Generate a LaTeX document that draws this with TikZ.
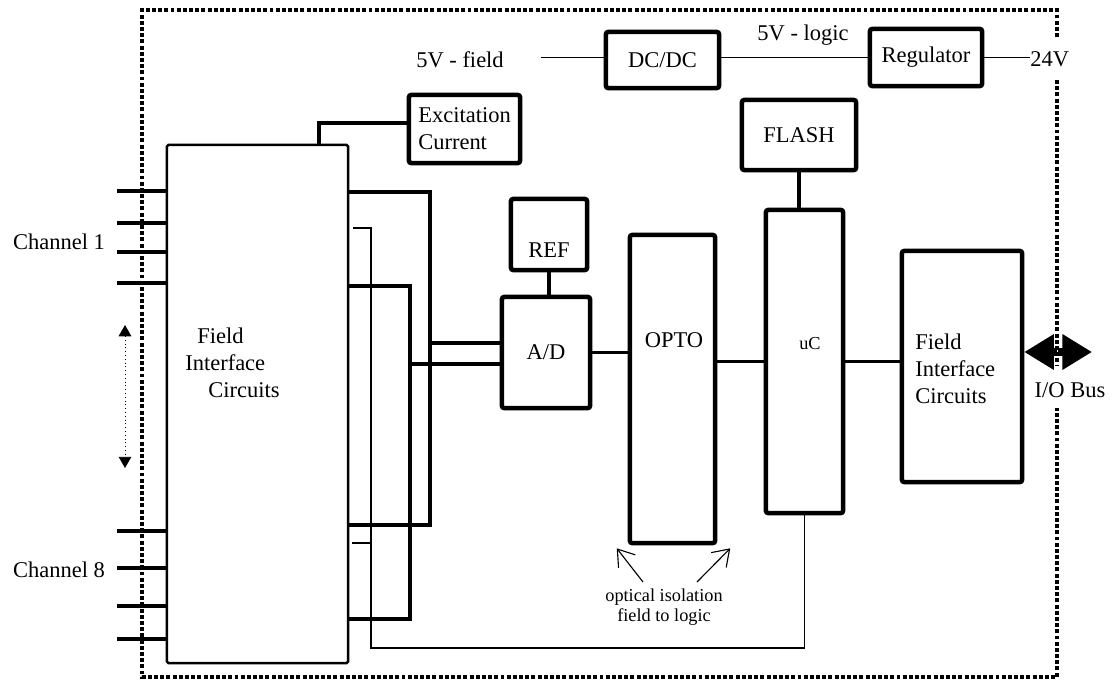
\documentclass[tikz,border=0pt]{standalone}
\usepackage{fontspec}
\setmainfont{Liberation Serif}
\usetikzlibrary{arrows.meta}

\begin{document}
\begin{tikzpicture}[
    x=0.025cm, y=-0.025cm,
    blk/.style={rectangle, rounded corners=1.5pt, draw=black, line width=3.2pt,
                inner sep=0pt, font=\fontsize{16}{19.2}\selectfont},
    fieldblk/.style={rectangle, rounded corners=1pt, draw=black, line width=1.8pt,
                     inner sep=0pt},
    lbl/.style={inner sep=0pt, font=\fontsize{16}{19.2}\selectfont},
    small/.style={inner sep=0pt, align=center, font=\fontsize{13}{14.5}\selectfont},
    wire/.style={line width=2.7pt},
    thinwire/.style={line width=0.8pt},
    pwr/.style={line width=1.1pt},
    chan/.style={line width=2.6pt},
    border/.style={line width=2.6pt, dash pattern=on 2.8pt off 1.6pt,
                   preaction={draw=white, solid}},
    bus/.style={line width=5pt,
                {Triangle[length=21pt, width=24pt]}-{Triangle[length=21pt, width=24pt]}},
    note/.style={line width=0.8pt, -{Straight Barb[length=11pt, width=15pt]}},
    span/.style={line width=0.7pt, dotted,
                 {Triangle[length=8pt, width=9pt]}-{Triangle[length=8pt, width=9pt]}},
  ]
    \useasboundingbox (0,0) rectangle (1119,679);

    % field side
    \node[fieldblk, minimum width=4.525cm, minimum height=12.95cm] (fic1) at (257.5,404) {};
    \node[lbl, align=left, anchor=west] (fic1-t) at (185,363)
      {\hspace*{0.3cm}Field\\Interface\\\hspace*{0.575cm}Circuits};
    \node[blk, minimum width=2.775cm, minimum height=1.7cm, align=left] (exc) at (464.5,129)
      {Excitation\\Current};
    \node[blk, minimum width=1.9cm, minimum height=1.775cm] (ref) at (549,234.5) {};
    \node[lbl] (ref-t) at (549,250) {REF};
    \node[blk, minimum width=2.2cm, minimum height=2.775cm] (ad) at (546,352.5) {A/D};
    \node[blk, minimum width=2.125cm, minimum height=7.7cm] (opto) at (672.5,389) {};
    \node[lbl] (opto-t) at (674,340) {OPTO};

    % logic side
    \node[blk, minimum width=1.925cm, minimum height=7.575cm] (uc) at (804.5,361.5) {};
    \node[small] (uc-t) at (810,344) {uC};
    \node[blk, minimum width=2.85cm, minimum height=1.75cm] (flash) at (799,135) {FLASH};
    \node[blk, minimum width=3cm, minimum height=5.775cm] (fic2) at (962,366.5) {};
    \node[lbl, align=left, anchor=west] (fic2-t) at (915,369) {Field\\Interface\\Circuits};

    % power
    \node[blk, minimum width=2.825cm, minimum height=1.4cm] (dcdc) at (662.5,60) {DC/DC};
    \node[blk, minimum width=2.8cm, minimum height=1.425cm] (reg) at (926,57.5) {Regulator};
    \node[lbl] (v5f) at (460,60) {5V - field};
    \node[lbl] (v5l) at (803,35) {5V - logic};
    \node[lbl, anchor=west] (v24) at (1030,59) {24V};
    \coordinate (v5f-end) at (541,57.5);
    \draw[pwr] (v5f-end) -- (v5f-end -| dcdc.west);
    \draw[pwr] (reg.west -| dcdc.east) -- (reg.west);
    \draw[pwr] (reg.east) -- (reg.east -| v24.west);

    % channels
    \node[lbl] (ch1) at (59,242) {Channel 1};
    \node[lbl] (ch8) at (59,570) {Channel 8};
    \coordinate (span-top) at (125,325);
    \coordinate (span-bot) at (125,468);
    \draw[span] (span-top) -- (span-bot);

    % wiring to A/D
    \coordinate (wa-top) at (430,192);
    \coordinate (wa-bot) at (430,525);
    \coordinate (wa-ad)  at (430,343);
    \coordinate (wb-top) at (410,286);
    \coordinate (wb-bot) at (410,619);
    \coordinate (wb-ad)  at (410,364);
    \coordinate (wc-top) at (353,228);
    \coordinate (wc-bot) at (371,648);
    \coordinate (wc-stub) at (352,543);
    \draw[wire] (fic1.east |- wa-top) -- (wa-top) -- (wa-bot) -- (fic1.east |- wa-bot);
    \draw[wire] (wa-ad) -- (ad.west |- wa-ad);
    \draw[wire] (fic1.east |- wb-top) -- (wb-top) -- (wb-bot) -- (fic1.east |- wb-bot);
    \draw[wire] (wb-ad) -- (ad.west |- wb-ad);
    \draw[thinwire] (uc.south) |- (wc-bot) |- (wc-top);
    \draw[thinwire] (wc-stub) -- (wc-stub -| wc-bot);
    \coordinate (exc-tap) at (319,145);
    \draw[line width=2.4pt] (fic1.north -| exc-tap) |- ([yshift=0.15cm]exc.west);

    % signal path
    \draw[line width=3.2pt] (ref.south) -- (ref.south |- ad.north);
    \draw[wire] (ad.east) -- (ad.east -| opto.west);
    \draw[wire] (uc.west) -- (uc.west -| opto.east);
    \draw[wire] (uc.east) -- (uc.east -| fic2.west);
    \draw[line width=2.6pt] (flash.south) -- (flash.south |- uc.north);

    % isolation note
    \node[small] (iso) at (664,607) {optical isolation\\field to logic};
    \coordinate (iso-l) at (643,582);
    \coordinate (iso-r) at (697,582);
    \draw[note] (iso-l) -- ([xshift=-0.275cm, yshift=-0.075cm]opto.south west);
    \draw[note] (iso-r) -- ([xshift=0.325cm, yshift=-0.075cm]opto.south east);

    % I/O bus
    \coordinate (bus-r) at (1092,352);
    \draw[bus] (fic2.east |- bus-r) -- (bus-r);
    \node[lbl] (iob) at (1070,390) {I/O Bus};

    % module outline
    \draw[border] (1057,37) -- (1057,10) -- (142,10) -- (142,677) -- (1057,677) -- (1057,408);
    \draw[border] (1057,80) -- (1057,365);

    \foreach \y in {191,223,252,283,531,568,606,639}
      \draw[chan] (fic1.west |- 0,\y) -- ++(-49,0);
  \end{tikzpicture}
\end{document}
